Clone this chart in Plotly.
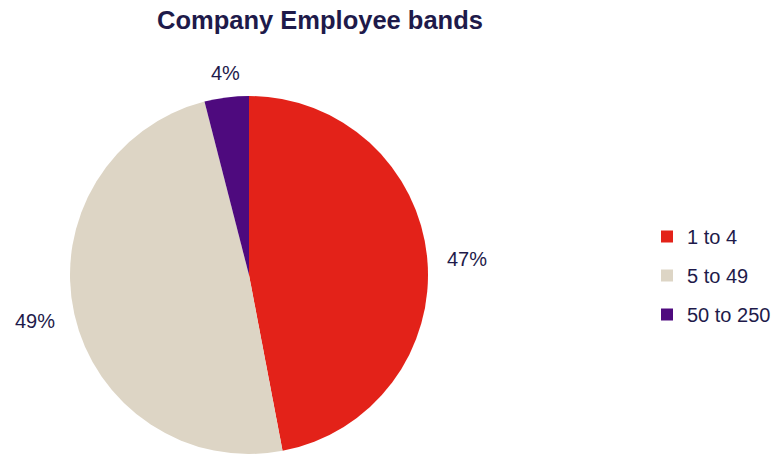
import math
import plotly.graph_objects as go

# Employee band shares
bands = ["1 to 4", "5 to 49", "50 to 250"]
shares = [47, 49, 4]
colors = ["#E32219", "#DDD5C5", "#4E0A7E"]

text_color = "#1E1A4A"
font_family = "Liberation Sans, Arial, sans-serif"

W, H = 776, 454
# pie domain in pixels
px0, px1 = 70, 428
py_top, py_bot = 96, 454
cx, cy = (px0 + px1) / 2, (py_top + py_bot) / 2
radius = (px1 - px0) / 2

fig = go.Figure()

fig.add_trace(go.Pie(
    labels=bands,
    values=shares,
    marker=dict(colors=colors, line=dict(width=0)),
    sort=False,
    direction="clockwise",
    rotation=0,
    textinfo="none",
    automargin=False,
    showlegend=False,
    domain=dict(x=[px0 / W, px1 / W], y=[(H - py_bot) / H, (H - py_top) / H]),
))

# Percentage labels placed just outside each slice, at its mid angle
total = sum(shares)
cum = 0
for v in shares:
    mid = (cum + v / 2) / total
    cum += v
    theta = 2 * math.pi * mid
    sx, sy = math.sin(theta), math.cos(theta)
    xanchor = "left" if sx > 0.3 else ("right" if sx < -0.3 else "center")
    yanchor = "bottom" if sy > 0.3 else ("top" if sy < -0.3 else "middle")
    gap = 18 if xanchor != "center" else 12
    r = radius + gap
    ax = cx + sx * r
    ay = cy - sy * r
    fig.add_annotation(
        x=ax / W, y=1 - ay / H, xref="paper", yref="paper",
        text=f"{round(v / total * 100)}%", showarrow=False,
        xanchor=xanchor, yanchor=yanchor, yshift=-3 if yanchor == "middle" else 0,
        font=dict(size=20, color=text_color, family=font_family),
    )

# Legend entries, one group per band for wider spacing
for name, col in zip(bands, colors):
    fig.add_trace(go.Scatter(
        x=[None], y=[None], mode="markers", name=name, legendgroup=name,
        marker=dict(symbol="square", size=11, color=col),
    ))

fig.update_layout(
    width=W, height=H,
    margin=dict(l=0, r=0, t=0, b=0),
    paper_bgcolor="white", plot_bgcolor="white",
    title=dict(
        text="<b>Company Employee bands</b>",
        x=320 / W, xanchor="center", y=1 - 20 / H, yanchor="middle",
        font=dict(size=25.5, color=text_color, family=font_family),
    ),
    xaxis=dict(visible=False), yaxis=dict(visible=False),
    legend=dict(
        x=647 / W, xanchor="left", y=1 - 217 / H, yanchor="top",
        font=dict(size=20, color=text_color, family=font_family),
        tracegroupgap=10, itemsizing="constant",
        bgcolor="rgba(0,0,0,0)",
    ),
)

fig.write_html("out.html")
